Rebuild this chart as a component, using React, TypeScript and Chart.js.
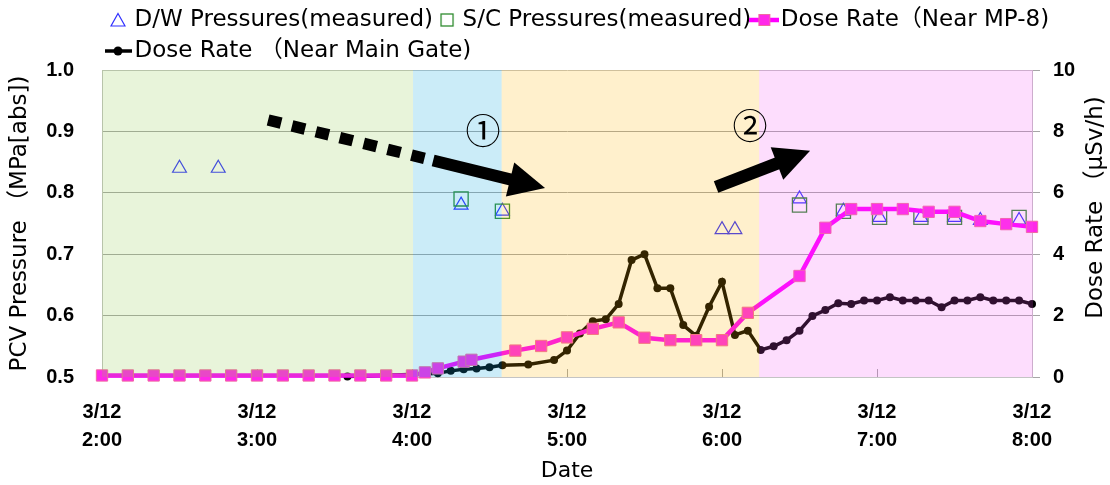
import { useEffect, useRef } from "react";
import { Chart, registerables } from "chart.js";

Chart.register(...registerables);

// ---------------- data ----------------
const dateLabel = "3/12";
const hourLabels = ["2:00", "3:00", "4:00", "5:00", "6:00", "7:00", "8:00"];
// x values are minutes after 3/12 2:00

const dwMinutes = [30, 45, 139, 155, 240, 245, 270, 287, 301, 317, 330, 340, 355];
const dwPressure = [0.84, 0.84, 0.78, 0.77, 0.74, 0.74, 0.79, 0.77, 0.76, 0.76, 0.76, 0.755, 0.755];

const scMinutes = [139, 155, 270, 287, 301, 317, 330, 355];
const scPressure = [0.79, 0.77, 0.78, 0.77, 0.76, 0.76, 0.76, 0.76];

const mp8Minutes = [0, 10, 20, 30, 40, 50, 60, 70, 80, 90, 100, 110, 120, 125, 130, 140, 143, 160, 170, 180, 190, 200, 210, 220, 230, 240, 250, 270, 280, 290, 300, 310, 320, 330, 340, 350, 360];
const mp8Dose = [0.05, 0.05, 0.05, 0.05, 0.05, 0.05, 0.05, 0.05, 0.05, 0.05, 0.05, 0.05, 0.05, 0.15, 0.28, 0.5, 0.56, 0.86, 1.01, 1.29, 1.57, 1.78, 1.28, 1.2, 1.2, 1.2, 2.09, 3.29, 4.86, 5.47, 5.47, 5.47, 5.38, 5.38, 5.08, 4.98, 4.89];

const gateMinutes = [95, 125, 130, 135, 140, 145, 150, 155, 165, 175, 180, 185, 190, 195, 200, 205, 210, 215, 220, 225, 230, 235, 240, 245, 250, 255, 260, 265, 270, 275, 280, 285, 290, 295, 300, 305, 310, 315, 320, 325, 330, 335, 340, 345, 350, 355, 360];
const gateDose = [0.02, 0.1, 0.12, 0.2, 0.25, 0.28, 0.32, 0.38, 0.41, 0.55, 0.86, 1.42, 1.82, 1.88, 2.38, 3.81, 4.0, 2.89, 2.89, 1.69, 1.34, 2.29, 3.1, 1.37, 1.51, 0.88, 1.0, 1.2, 1.51, 1.99, 2.18, 2.4, 2.38, 2.49, 2.49, 2.6, 2.49, 2.49, 2.49, 2.27, 2.49, 2.49, 2.6, 2.49, 2.49, 2.49, 2.38];

// shaded phases (minutes)
const phaseStart = [0, 120.4, 154.7, 254.4];
const phaseEnd = [120.4, 154.7, 254.4, 360];

// annotation anchors in data units [minutes, pressure]
const arrow1Start = [64.3, 0.9186];
const arrow1Tip = [171.5, 0.8078];
const arrow2Start = [237.7, 0.8094];
const arrow2Tip = [274.1, 0.8686];
const mark1Pos = [147.5, 0.9015];
const mark2Pos = [250.8, 0.91];

const legendTexts = [
  "D/W Pressures(measured)",
  "S/C Pressures(measured)",
  "Dose Rate（Near MP-8)",
  "Dose Rate （Near Main Gate)",
];
const yTitle = "PCV Pressure （MPa[abs])";
const y1Title = "Dose Rate （μSv/h)";
const xTitle = "Date";

// ---------------- styles ----------------
const FONT_TEXT = "'DejaVu Sans', 'Noto Sans CJK JP', sans-serif";
const FONT_NUM = "'Liberation Sans', Arial, sans-serif";
const FONT_CJK = "'Noto Sans CJK JP', sans-serif";
const GRID = "#a6a6a6";
const BORDER = "#c4c4c4";
const DW_COLOR = "#3030ff";
const SC_COLOR = "#2e8b2e";
const MP8_LINE = "#ff00ff";
const MP8_FILL = "#ff28e8";
const MP8_EDGE = "#f06aa0";
const phaseColors = [
  "rgba(140,200,70,0.2)",
  "rgba(20,168,223,0.22)",
  "rgba(255,180,0,0.2)",
  "rgba(246,82,246,0.195)",
];

const toXY = (xs: number[], ys: number[]) => xs.map((x, i) => ({ x, y: ys[i] }));

function makeIcon(w: number, h: number, draw: (g: CanvasRenderingContext2D) => void) {
  const c = document.createElement("canvas");
  c.width = w;
  c.height = h;
  const g = c.getContext("2d")!;
  draw(g);
  return c;
}

function drawArrow(ctx: CanvasRenderingContext2D, p0: any, p1: any, o: any) {
  const dx = p1.x - p0.x;
  const dy = p1.y - p0.y;
  const L = Math.hypot(dx, dy);
  const ux = dx / L, uy = dy / L;
  const nx = -uy, ny = ux;
  const at = (d: number) => ({ x: p0.x + ux * d, y: p0.y + uy * d });
  ctx.strokeStyle = "#000";
  ctx.fillStyle = "#000";
  ctx.lineCap = "butt";
  if (o.dashEnd > 0) {
    ctx.setLineDash(o.dash);
    ctx.lineWidth = o.dashWidth;
    const e = at(o.dashEnd * L);
    ctx.beginPath();
    ctx.moveTo(p0.x, p0.y);
    ctx.lineTo(e.x, e.y);
    ctx.stroke();
    ctx.setLineDash([]);
  }
  const baseD = L - o.head;
  const s = at(o.solidStart * L);
  const b = at(baseD + 1);
  ctx.lineWidth = o.width;
  ctx.beginPath();
  ctx.moveTo(s.x, s.y);
  ctx.lineTo(b.x, b.y);
  ctx.stroke();
  const bb = at(baseD);
  ctx.beginPath();
  ctx.moveTo(p1.x, p1.y);
  ctx.lineTo(bb.x + nx * o.half, bb.y + ny * o.half);
  ctx.lineTo(bb.x - nx * o.half, bb.y - ny * o.half);
  ctx.closePath();
  ctx.fill();
}

const overlayPlugin = {
  id: "phaseOverlay",
  afterDatasetsDraw(chart: any) {
    const { ctx, chartArea: ca, scales } = chart;
    const xs = scales.x, ys = scales.y;
    const px = (p: number[]) => ({ x: xs.getPixelForValue(p[0]), y: ys.getPixelForValue(p[1]) });
    ctx.save();
    phaseStart.forEach((s, i) => {
      const x0 = xs.getPixelForValue(s);
      let x1 = xs.getPixelForValue(phaseEnd[i]);
      if (i === phaseStart.length - 1) x1 += 1;
      ctx.fillStyle = phaseColors[i];
      ctx.fillRect(x0, ca.top, x1 - x0, ca.bottom - ca.top);
    });
    drawArrow(ctx, px(arrow1Start), px(arrow1Tip), {
      dashEnd: 0.565, dash: [13.4, 11.2], dashWidth: 11.5,
      solidStart: 0.596, width: 12, head: 36, half: 17.5,
    });
    drawArrow(ctx, px(arrow2Start), px(arrow2Tip), {
      dashEnd: 0, solidStart: 0, width: 12.5, head: 35.5, half: 17.4,
    });
    ctx.fillStyle = "#000";
    ctx.font = `35px ${FONT_CJK}`;
    ctx.textAlign = "center";
    ctx.textBaseline = "middle";
    const m1 = px(mark1Pos);
    const m2 = px(mark2Pos);
    ctx.fillText("①", m1.x, m1.y);
    ctx.fillText("②", m2.x, m2.y);
    ctx.restore();
  },
  afterDraw(chart: any) {
    const { ctx, chartArea: ca, scales } = chart;
    ctx.save();
    ctx.fillStyle = "#000";
    ctx.font = `23px ${FONT_TEXT}`;
    ctx.textAlign = "center";
    ctx.textBaseline = "middle";
    ctx.translate(scales.y1.right - 14, (ca.top + ca.bottom) / 2 - 16);
    ctx.rotate(-Math.PI / 2);
    ctx.fillText(y1Title, 0, 0);
    ctx.restore();
  },
};

const legendPlacePlugin = {
  id: "legendPlace",
  afterLayout(chart: any) {
    const lg = chart.legend;
    if (lg) {
      const h = lg.bottom - lg.top;
      lg.left = 105;
      lg.top = 0.5;
      lg.bottom = lg.top + h;
    }
  },
};

export default function App() {
  const ref = useRef<HTMLCanvasElement>(null);

  useEffect(() => {
    const canvas = ref.current;
    if (!canvas) return;

    const icons = [
      makeIcon(16, 16, (g) => {
        g.strokeStyle = DW_COLOR;
        g.lineWidth = 1.2;
        g.beginPath();
        g.moveTo(8, 1.5);
        g.lineTo(15, 14);
        g.lineTo(1, 14);
        g.closePath();
        g.stroke();
      }),
      makeIcon(18, 16, (g) => {
        g.strokeStyle = SC_COLOR;
        g.lineWidth = 1.3;
        g.strokeRect(4, 2, 12, 12);
      }),
      makeIcon(30, 14, (g) => {
        g.strokeStyle = MP8_LINE;
        g.lineWidth = 4.5;
        g.beginPath();
        g.moveTo(0, 7);
        g.lineTo(30, 7);
        g.stroke();
        g.fillStyle = MP8_FILL;
        g.fillRect(9.5, 1.5, 11, 11);
        g.strokeStyle = MP8_EDGE;
        g.lineWidth = 1;
        g.strokeRect(9.5, 1.5, 11, 11);
      }),
      makeIcon(28, 12, (g) => {
        g.strokeStyle = "#000";
        g.lineWidth = 3.5;
        g.beginPath();
        g.moveTo(0, 6);
        g.lineTo(28, 6);
        g.stroke();
        g.fillStyle = "#000";
        g.beginPath();
        g.arc(14, 6, 4.5, 0, Math.PI * 2);
        g.fill();
      }),
    ];
    const legendDataset = [0, 1, 2, 3];

    const chart = new Chart(canvas, {
      type: "scatter",
      data: {
        datasets: [
          {
            label: legendTexts[0],
            data: toXY(dwMinutes, dwPressure),
            yAxisID: "y",
            showLine: false,
            pointStyle: "triangle",
            pointRadius: 8,
            pointBorderWidth: 1.2,
            pointBorderColor: DW_COLOR,
            pointBackgroundColor: "rgba(0,0,0,0)",
            borderColor: DW_COLOR,
            backgroundColor: "rgba(0,0,0,0)",
            order: 3,
            clip: false,
          },
          {
            label: legendTexts[1],
            data: toXY(scMinutes, scPressure),
            yAxisID: "y",
            showLine: false,
            pointStyle: "rect",
            pointRadius: 10,
            pointBorderWidth: 1.3,
            pointBorderColor: SC_COLOR,
            pointBackgroundColor: "rgba(0,0,0,0)",
            borderColor: SC_COLOR,
            backgroundColor: "rgba(0,0,0,0)",
            order: 2,
            clip: false,
          },
          {
            label: legendTexts[2],
            data: toXY(mp8Minutes, mp8Dose),
            yAxisID: "y1",
            showLine: true,
            borderColor: MP8_LINE,
            borderWidth: 4.5,
            tension: 0,
            pointStyle: "rect",
            pointRadius: 8,
            pointBorderWidth: 1,
            pointBorderColor: MP8_EDGE,
            pointBackgroundColor: MP8_FILL,
            order: 0,
            clip: false,
          },
          {
            label: legendTexts[3],
            data: toXY(gateMinutes, gateDose),
            yAxisID: "y1",
            showLine: true,
            borderColor: "#000",
            borderWidth: 3.5,
            tension: 0,
            pointStyle: "circle",
            pointRadius: 4,
            pointBorderWidth: 0,
            pointBorderColor: "#000",
            pointBackgroundColor: "#000",
            order: 1,
            clip: false,
          },
        ],
      },
      options: {
        responsive: false,
        animation: false,
        events: [],
        layout: { padding: { top: -2, left: 0, right: 0, bottom: 0 } },
        plugins: {
          tooltip: { enabled: false },
          title: { display: false },
          legend: {
            display: true,
            position: "top",
            align: "start",
            labels: {
              usePointStyle: true,
              pointStyleWidth: 10,
              padding: 8,
              color: "#000",
              font: { family: FONT_TEXT, size: 23 },
              generateLabels: () =>
                legendTexts.map((text, i) => ({
                  text,
                  pointStyle: icons[i] as any,
                  fillStyle: "rgba(0,0,0,0)",
                  strokeStyle: "rgba(0,0,0,0)",
                  lineWidth: 0,
                  hidden: false,
                  datasetIndex: legendDataset[i],
                  fontColor: "#000",
                })),
            },
          },
        },
        scales: {
          x: {
            type: "linear",
            min: 0,
            max: 360,
            offset: false,
            afterFit: (s: any) => {
              s.height = 108;
            },
            ticks: {
              stepSize: 60,
              autoSkip: false,
              maxRotation: 0,
              padding: 29,
              color: "#000",
              font: { family: FONT_NUM, weight: "bold", size: 20, lineHeight: 1.4 },
              callback: (v: any) => [dateLabel, hourLabels[Math.round(Number(v) / 60)]],
            },
            grid: {
              drawOnChartArea: false,
              drawTicks: true,
              tickLength: -8,
              color: GRID,
            },
            border: { display: true, color: BORDER },
            title: {
              display: true,
              text: xTitle,
              color: "#000",
              font: { family: FONT_TEXT, size: 22 },
              padding: { top: 0, bottom: 1 },
            },
          },
          y: {
            type: "linear",
            position: "left",
            min: 0.5,
            max: 1.0,
            afterFit: (s: any) => {
              s.width = 102;
            },
            ticks: {
              stepSize: 0.1,
              padding: 28,
              color: "#000",
              font: { family: FONT_NUM, weight: "bold", size: 20 },
              callback: (v: any) => Number(v).toFixed(1),
            },
            grid: {
              drawTicks: false,
              color: (c: any) => {
                const v = c.tick ? c.tick.value : 0;
                return Math.abs(v - 1) < 1e-6 || Math.abs(v - 0.5) < 1e-6 ? BORDER : GRID;
              },
            },
            border: { display: true, color: BORDER },
            title: {
              display: true,
              text: yTitle,
              color: "#000",
              font: { family: FONT_TEXT, size: 23 },
              padding: { top: 6, bottom: 0 },
            },
          },
          y1: {
            type: "linear",
            position: "right",
            min: 0,
            max: 10,
            afterFit: (s: any) => {
              s.width = 78;
            },
            ticks: {
              stepSize: 2,
              padding: 13,
              color: "#000",
              font: { family: FONT_NUM, weight: "bold", size: 20 },
            },
            grid: {
              drawOnChartArea: false,
              drawTicks: true,
              tickLength: 8,
              color: GRID,
            },
            border: { display: true, color: BORDER },
            title: { display: false },
          },
        },
      } as any,
      plugins: [overlayPlugin, legendPlacePlugin],
    });

    return () => chart.destroy();
  }, []);

  return (
    <div style={{ position: "absolute", left: 0, top: 0, width: 1110, height: 485, background: "#fff" }}>
      <canvas ref={ref} width={1110} height={485} style={{ display: "block", width: 1110, height: 485 }} />
    </div>
  );
}
